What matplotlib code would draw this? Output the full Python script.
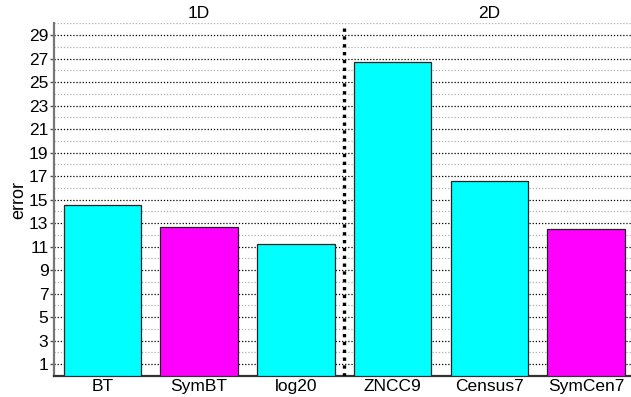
import numpy as np
import matplotlib.pyplot as plt
from matplotlib.ticker import FixedLocator

plt.rcParams['font.family'] = ['Liberation Sans', 'DejaVu Sans']

methods = ['BT', 'SymBT', 'log20', 'ZNCC9', 'Census7', 'SymCen7']
errors = [14.56, 12.63, 11.19, 26.68, 16.57, 12.49]
is_sym = [False, True, False, False, False, True]
groups = ['1D', '2D']

cyan = '#00ffff'
magenta = '#ff00ff'
fs = 12.5

fig = plt.figure(figsize=(6.31, 3.97), dpi=100)
ax = fig.add_axes([0.0856, 0.0535, 0.9198, 0.8878])

x = np.arange(1, len(methods) + 1)
colors = [magenta if s else cyan for s in is_sym]

ax.set_xlim(0.5, 6.5)
ax.set_ylim(0, 30)

# grid: odd values major (black dots), even values minor (grey dots)
ax.yaxis.set_major_locator(FixedLocator(np.arange(1, 30, 2)))
ax.yaxis.set_minor_locator(FixedLocator(np.arange(2, 31, 2)))
ax.grid(axis='y', which='major', color='black', linestyle=(0, (1, 1.5)), linewidth=0.9)
ax.grid(axis='y', which='minor', color='#b0b0b0', linestyle=(0, (1, 1.5)), linewidth=0.9)
ax.set_axisbelow(True)

ax.bar(x, errors, width=0.8, color=colors, edgecolor='#222222', linewidth=0.9, zorder=3)

# split between 1D and 2D methods
ax.axvline(3.5, ymax=0.99, color='black', linewidth=2.4,
           linestyle=(0, (1, 1.35)), dash_capstyle='butt', zorder=4)

for gx, g in zip([2, 5], groups):
    ax.text(gx, 30.2, g, ha='center', va='bottom', fontsize=fs,
            bbox=dict(facecolor='white', edgecolor='none', pad=1.0), zorder=5)

ax.set_xticks(x)
ax.set_xticklabels(methods, fontsize=fs)
ax.tick_params(axis='x', length=0, pad=2)
ax.tick_params(axis='y', which='major', length=3, width=1, direction='out',
               labelsize=fs, pad=1, color='#555555')
ax.tick_params(axis='y', which='minor', length=0)
ax.set_ylabel('error', fontsize=13, labelpad=1)

for side in ['top', 'right']:
    ax.spines[side].set_visible(False)
ax.spines['left'].set_color('#777777')
ax.spines['left'].set_linewidth(1.6)
ax.spines['bottom'].set_color('#333333')
ax.spines['bottom'].set_linewidth(1.6)

fig.savefig('out.png', dpi=100)
